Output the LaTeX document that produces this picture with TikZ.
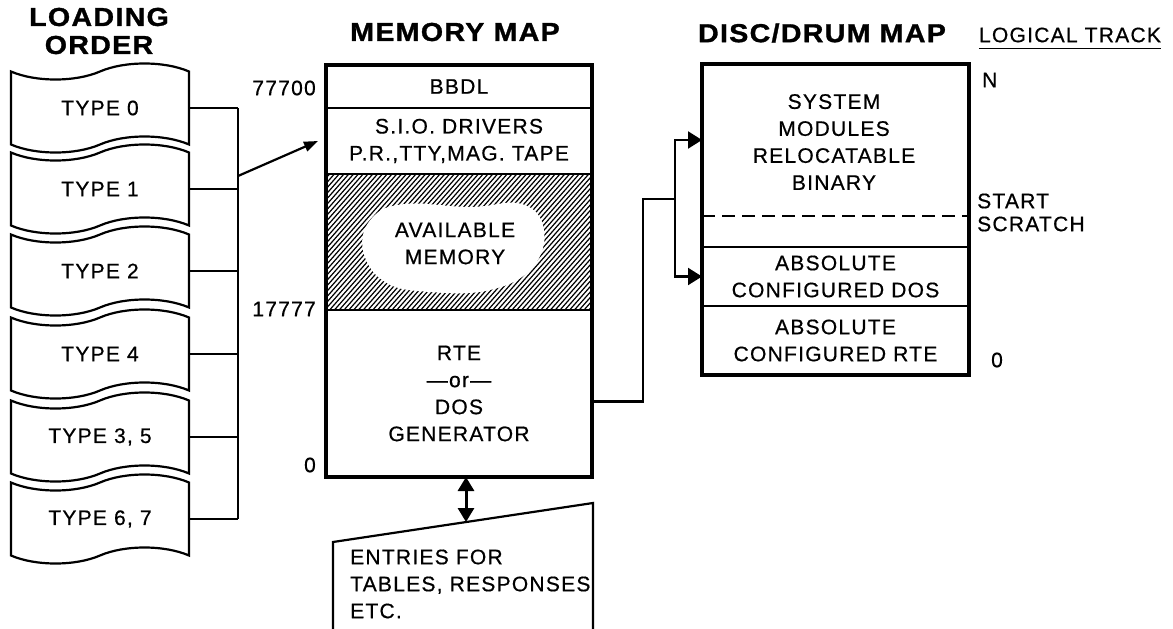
\documentclass[tikz,border=0pt]{standalone}
\usepackage{fontspec}
\setmainfont{Liberation Sans}[LetterSpace=6,FakeBold=0.6]
\newfontfamily\headfont{Liberation Sans}[FakeStretch=1.1,LetterSpace=5,FakeBold=1.2]
\usetikzlibrary{arrows.meta,shapes.symbols}

\tikzset{
  every node/.style={font=\fontsize{21}{27}\selectfont, inner sep=0pt, align=center},
  title/.style={font=\headfont\bfseries\fontsize{26}{28}\selectfont},
  line/.style={line width=2.2pt},
  outer/.style={line width=3.4pt},
  hatch/.style={line width=1.2pt},
  tapebox/.style={draw, line width=2.2pt, tape, tape bend height=16pt,
    minimum width=178pt, minimum height=89pt},
  row/.style={draw, line width=2.2pt, outer sep=0pt, minimum width=266pt},
  thin tip/.style={-{Triangle[length=14pt,width=10pt]}},
  big tip/.style={-{Triangle[length=14pt,width=17pt]}},
  both tip/.style={{Triangle[length=14pt,width=16pt]}-{Triangle[length=14pt,width=16pt]}},
}

\begin{document}
\begin{tikzpicture}[x=1pt,y=-1pt]
  \useasboundingbox (0,0) rectangle (1173,629);

  % titles
  \node[title] (ldtitle) at (99,31) {LOADING\\ORDER};
  \node[title] (mmtitle) at (455,32) {MEMORY MAP};
  \node[title] (ddtitle) at (822,33) {DISC/DRUM MAP};
  \node (ltrack) at (1070,35) {LOGICAL TRACK};
  \draw[line width=1.6pt] ([yshift=-6pt]ltrack.south west) -- ([yshift=-6pt]ltrack.south east);

  % loading order tapes
  \coordinate (busx) at (238,0);
  \foreach \n/\y/\t in {ty0/108/TYPE 0, ty1/189/TYPE 1, ty2/271/TYPE 2,
      ty4/354/TYPE 4, ty35/437/{TYPE 3, 5}, ty67/519/{TYPE 6, 7}} {
    \node[tapebox] (\n) at (100,\y) {\t};
    \draw[line] (\n.east) -- (\n.east -| busx);
  }
  \draw[line] (ty0.east -| busx) -- (ty67.east -| busx);

  % memory map
  \node[row, minimum height=43pt] (bbdl) at (459,86.5) {BBDL};
  \node[row, minimum height=66pt] (sio) at (459,141) {S.I.O. DRIVERS\\P.R.,TTY,MAG. TAPE};
  \node[row, minimum height=136pt] (avail) at (459,242) {};
  \node[row, minimum height=167pt] (rte) at (459,393.5) {RTE\\---or---\\DOS\\GENERATOR};
  \begin{scope}
    \clip (avail.south west) rectangle (avail.north east);
    \foreach \i in {0,...,84} \draw[hatch] (200+4.8*\i,310) -- ++(120,-136);
  \end{scope}
  \fill[white] plot[smooth cycle, tension=0.7] coordinates {(363,250) (372,218) (405,204)
    (470,207) (522,204) (544,230) (532,268) (490,290) (430,292) (385,282)};
  \node (availtxt) at (455,243.5) {AVAILABLE\\MEMORY};
  \draw[line] (avail.north west) -- (avail.north east);
  \draw[line] (avail.south west) -- (avail.south east);
  \draw[outer] (bbdl.north west) rectangle (rte.south east);

  \node[anchor=east] (a77700) at (316,88) {77700};
  \node[anchor=east] (a17777) at (316,309) {17777};
  \node[anchor=east] (azero) at (316,465) {0};

  \coordinate (fork) at (238,176);
  \draw[line, thin tip] (fork) -- ([xshift=-8pt]sio.west);

  % entries for tables
  \draw[line] (333,629) -- (333,542) -- (593,503) -- (593,629);
  \node[anchor=west, align=left] (entries) at (350,584) {ENTRIES FOR\\TABLES, RESPONSES\\ETC.};
  \coordinate (rtebot) at ([xshift=7pt]rte.south);
  \coordinate (enttop) at (466,522);
  \draw[line width=3pt, both tip] (rtebot) -- (enttop);

  % disc/drum map
  \node[row, minimum width=267pt, minimum height=183pt] (sysmod) at (835.5,155.5) {};
  \node (systxt) at (834,142) {SYSTEM\\MODULES\\RELOCATABLE\\BINARY};
  \node[row, minimum width=267pt, minimum height=59pt] (dos) at (835.5,276.5) {ABSOLUTE\\CONFIGURED DOS};
  \node[row, minimum width=267pt, minimum height=69pt] (rtecfg) at (835.5,340.5) {ABSOLUTE\\CONFIGURED RTE};
  \draw[line, dash pattern=on 13pt off 7pt] (sysmod.west |- 0,216) -- (sysmod.east |- 0,216);
  \draw[outer] (sysmod.north west) rectangle (rtecfg.south east);

  \node[anchor=west] (trackn) at (982,80) {N};
  \node[anchor=west, align=left, font=\fontsize{21}{23}\selectfont] (scratch) at (977,212.5) {START\\SCRATCH};
  \node (trackzero) at (997,360) {0};

  % generator to disc
  \coordinate (jn) at (643,199);
  \coordinate (dbus) at (675,199);
  \coordinate (in1) at (702,140);
  \draw[line] ([yshift=-8pt]rte.east) -| (jn) -- (dbus);
  \draw[line, big tip] (dbus) |- (in1);
  \draw[line, big tip] (dbus) |- (dos.west);
\end{tikzpicture}
\end{document}
